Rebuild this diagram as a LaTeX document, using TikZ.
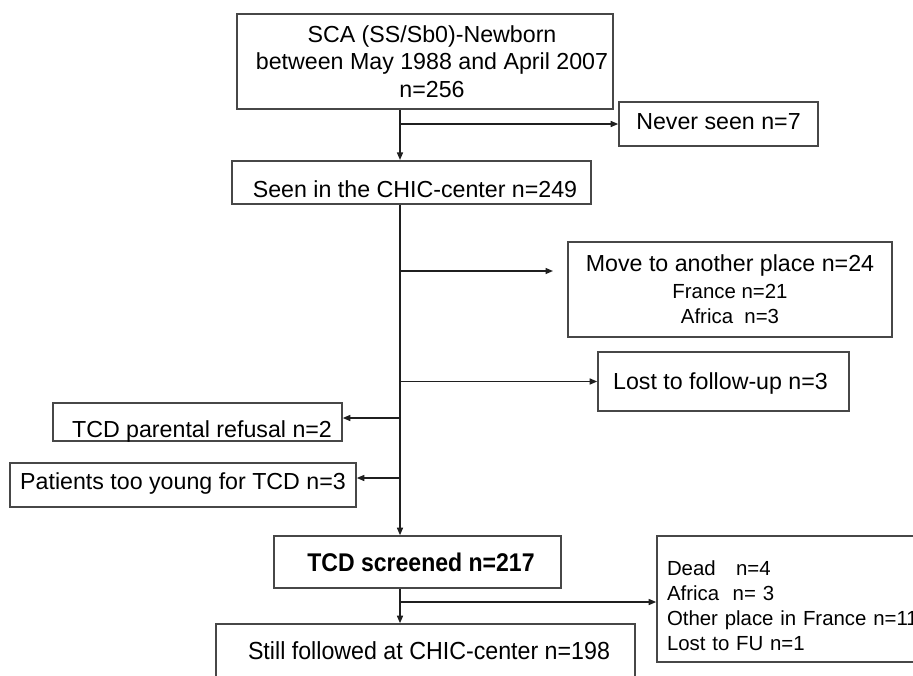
\documentclass[tikz,border=0pt]{standalone}
\usepackage{fontspec}
\setmainfont{Liberation Sans}
\newfontfamily\narrowA[FakeStretch=0.9]{Liberation Sans}
\newfontfamily\narrowB[FakeStretch=0.94]{Liberation Sans}
\usetikzlibrary{arrows.meta}
\tikzset{
  box/.style={draw=black!72, line width=1.6pt, rectangle, inner sep=0pt, align=center, text=black},
  bigtxt/.style={font=\fontsize{23.2}{27.5}\selectfont},
  smalltxt/.style={font=\fontsize{20.4}{25.5}\selectfont},
  oneline/.style={text height=#1, text depth=0pt},
  conn/.style={draw=black!88, line width=1.4pt, -{Triangle[length=7.5pt,width=6pt]}},
}
\begin{document}
\begin{tikzpicture}[x=1pt,y=-1pt]
\useasboundingbox (0,0) rectangle (913,675);
\begin{scope}
\clip (0,0) rectangle (913,675);
\fill[white] (0,0) rectangle (913,675);

% boxes
\node[box, bigtxt, minimum width=376pt, minimum height=95pt] (top) at (425,61.5)
  {\hspace*{14pt}SCA (SS/Sb0)-Newborn\\\hspace*{14pt}between May 1988 and April 2007\\\hspace*{14pt}n=256};
\node[box, bigtxt, oneline=11.6pt, minimum width=199pt, minimum height=44pt] (never) at (718.5,124)
  {Never seen n=7};
\node[box, bigtxt, oneline=29.6pt, minimum width=359pt, minimum height=43.5pt] (seen) at (411.5,182.5)
  {\hspace*{7pt}Seen in the CHIC-center n=249};
\node[box, smalltxt, minimum width=324pt, minimum height=95pt] (move) at (730,289.5)
  {{\fontsize{23.2}{27}\selectfont Move to another place n=24}\\[1pt]France n=21\\Africa\ \ n=3};
\node[box, bigtxt, oneline=16.6pt, minimum width=251pt, minimum height=59pt] (lost) at (723.5,381.5)
  {Lost to follow-up n=3\hspace*{6pt}};
\node[box, bigtxt, oneline=30.6pt, minimum width=289pt, minimum height=37.5pt] (par) at (197.5,422)
  {\hspace*{9pt}TCD parental refusal n=2};
\node[box, bigtxt, oneline=8.6pt, minimum width=346pt, minimum height=44pt] (young) at (183,484.7)
  {Patients too young for TCD n=3};
\node[box, font=\narrowA\bfseries\fontsize{25.6}{30}\selectfont, oneline=19.7pt, minimum width=287pt, minimum height=52pt] (tcd) at (417.5,562)
  {\hspace*{7pt}TCD screened n=217};
\node[box, font=\narrowB\fontsize{24.7}{29}\selectfont, oneline=10.7pt, minimum width=419pt, minimum height=60pt] (still) at (425.5,654)
  {\hspace*{7pt}Still followed at CHIC-center n=198};
\node[box, font=\fontsize{20.4}{25}\selectfont, align=left, text width=280pt, inner xsep=10pt, minimum width=300pt, minimum height=126pt] (dead) at (807,599)
  {\rule{0pt}{28pt}Dead\ \ \ n=4\\Africa\ \ n=\ 3\\Other place in France n=11\\Lost to FU n=1};

% trunk branch points
\coordinate (b1) at (400,124);
\coordinate (b2) at (400,271);
\coordinate (b3) at (400,381.5);
\coordinate (b4) at (400,418);
\coordinate (b5) at (400,478);
\coordinate (b6) at (400,602);
\coordinate (mvend) at (553,271);

% connectors
\draw[conn] (b1 |- top.south) -- (b1 |- seen.north);
\draw[conn] (b1) -- (b1 -| never.west);
\draw[conn] (b1 |- seen.south) -- (b1 |- tcd.north);
\draw[conn] (b2) -- (mvend);
\draw[conn] (b3) -- (b3 -| lost.west);
\draw[conn] (b4) -- (b4 -| par.east);
\draw[conn] (b5) -- (b5 -| young.east);
\draw[conn] (b1 |- tcd.south) -- (b1 |- still.north);
\draw[conn] (b6) -- (b6 -| dead.west);
\end{scope}
\end{tikzpicture}
\end{document}
